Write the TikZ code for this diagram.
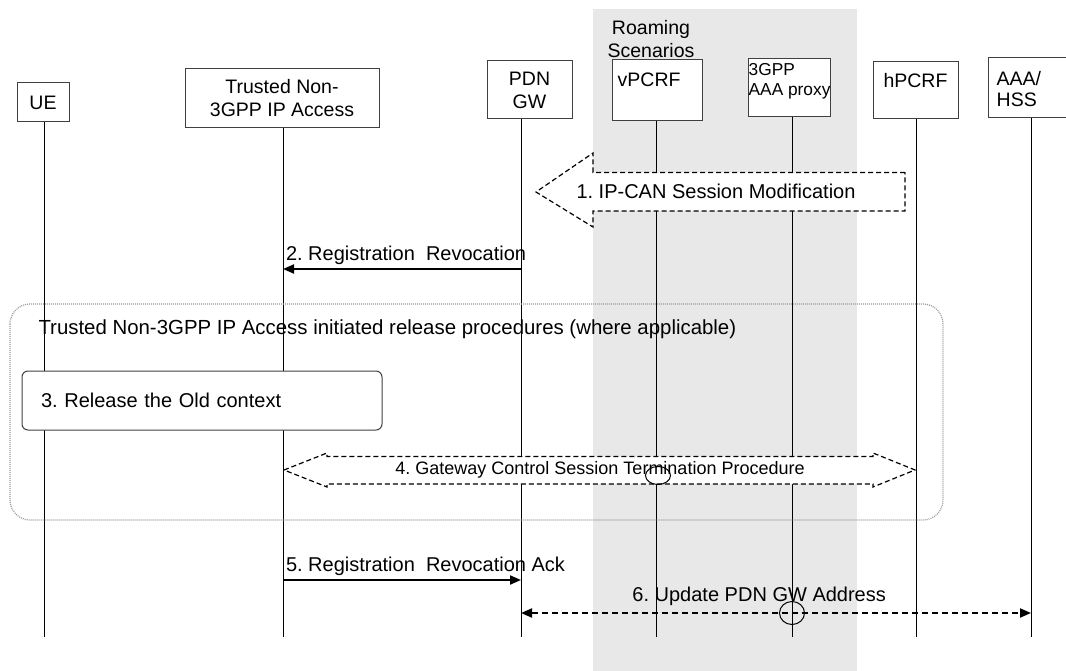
\documentclass[tikz,border=0pt]{standalone}
\usepackage{fontspec}
\setmainfont{Liberation Sans}
\usetikzlibrary{arrows.meta,shapes.geometric}
\definecolor{roamgray}{HTML}{E8E8E8}
\definecolor{boxline}{HTML}{404040}
\newcommand{\msgfont}{\fontsize{20}{23}\selectfont}
\newcommand{\boxfont}{\fontsize{19.5}{23}\selectfont}
\newcommand{\smallboxfont}{\fontsize{17.3}{19.5}\selectfont}
\frenchspacing
\tikzset{
  actor/.style={draw=boxline,line width=1,fill=white,inner sep=0,font=\boxfont,align=center},
  life/.style={line width=0.9},
  sig/.style={line width=2,-{Triangle[length=11pt,width=9pt]}},
  sigboth/.style={line width=2,dash pattern=on 6pt off 4pt,
    {Triangle[length=11pt,width=9pt]}-{Triangle[length=11pt,width=9pt]}},
  blockarrow/.style={draw,line width=1.2,dash pattern=on 5pt off 3pt,fill=white},
  msglabel/.style={font=\msgfont},
  hit/.style={draw,ellipse,line width=1,inner sep=0}
}

\begin{document}
\begin{tikzpicture}[x=1pt,y=-1pt]
  \useasboundingbox (0,0) rectangle (1066,671);
  \fill[roamgray] (593,9) rectangle (857,671);
  \node[font=\boxfont,align=center] (roam) at (651,39.5) {Roaming\\Scenarios};

  \node[actor,minimum width=52,minimum height=39] (ue) at (43,102.5) {UE};
  \node[actor,minimum width=194,minimum height=59] (tna) at (282,98.5) {Trusted Non-\\3GPP IP Access};
  \node[actor,minimum width=85,minimum height=58] (pgw) at (529.5,90) {PDN\\GW};
  \node[actor,minimum width=90,minimum height=61,
    label={[font=\boxfont,anchor=north west,inner xsep=6pt,inner ysep=13.5pt]north west:vPCRF}] (vpcrf) at (657,90.5) {};
  \node[actor,minimum width=82,minimum height=58,
    label={[font=\smallboxfont,align=left,anchor=north west,inner xsep=1pt,inner ysep=5pt]north west:3GPP\\AAA proxy}] (aaap) at (789,88) {};
  \node[actor,minimum width=85,minimum height=57,
    label={[font=\boxfont,anchor=north,inner sep=12pt]north:hPCRF}] (hpcrf) at (915.5,90.5) {};
  \node[actor,minimum width=86,minimum height=60,
    label={[font=\fontsize{19.5}{20.5}\selectfont,align=left,anchor=north west,inner xsep=9pt,inner ysep=14pt]north west:AAA/\\HSS}] (aaa) at (1031,88) {};

  \coordinate (bot) at (0,637);
  \foreach \a/\dx in {ue/1,tna/1,pgw/-8.5,vpcrf/-1,aaap/3,hpcrf/0.5,aaa/0}
    \draw[life] ([xshift=\dx pt]\a.south) coordinate (L\a) -- (L\a |- bot);

  \draw[draw=gray!80,line width=1.2,dash pattern=on 1pt off 1pt,rounded corners=20] (10,304) rectangle (943,520);
  \node[font=\fontsize{20.4}{24}\selectfont,anchor=west] (relhead) at (35,329) {Trusted Non-3GPP IP Access initiated release procedures (where applicable)};
  \node[draw=boxline,line width=1,fill=white,rounded corners=6,minimum width=360,minimum height=59,
    inner xsep=19,text width=322,align=left,font=\msgfont] (rel) at (202,400.5) {3. Release the Old context};

  \coordinate (r2) at (0,269);
  \coordinate (r4) at (0,475.5);
  \coordinate (r5) at (0,580);
  \coordinate (r6) at (0,613);

  \draw[blockarrow] (905,172.5) -- (593,172.5) -- (593,153) -- (536,192) -- (593,227) -- (593,211) -- (905,211) -- cycle;
  \node[msglabel] (m1) at (716,191) {1. IP-CAN Session Modification};

  \draw[sig] (Lpgw |- r2) -- (Ltna |- r2) node[msglabel,pos=1,anchor=south west,inner xsep=2pt] (m2) {2. Registration\ \ Revocation};

  \draw[blockarrow] (284,470) -- (327,453) -- (327,456.5) -- (873,456.5) -- (873,453) -- (915,470) -- (873,487)
    -- (873,484) -- (327,484) -- (327,487) -- cycle;
  \node[font=\fontsize{18}{21}\selectfont] (m4) at (600,469.5) {4. Gateway Control Session Termination Procedure};
  \node[hit,minimum width=25,minimum height=18] (x4) at ([xshift=2pt]Lvpcrf |- r4) {};

  \draw[sig] (Ltna |- r5) -- (Lpgw |- r5) node[msglabel,pos=0,anchor=south west,inner xsep=2pt] (m5) {5. Registration\ \ Revocation Ack};
  \draw[sigboth] (Lpgw |- r6) -- (Laaa |- r6) node[msglabel,pos=0.467,anchor=south,yshift=3pt] (m6) {6. Update PDN GW Address};
  \node[hit,minimum width=25,minimum height=23] (x6) at (Laaap |- r6) {};
\end{tikzpicture}
\end{document}
